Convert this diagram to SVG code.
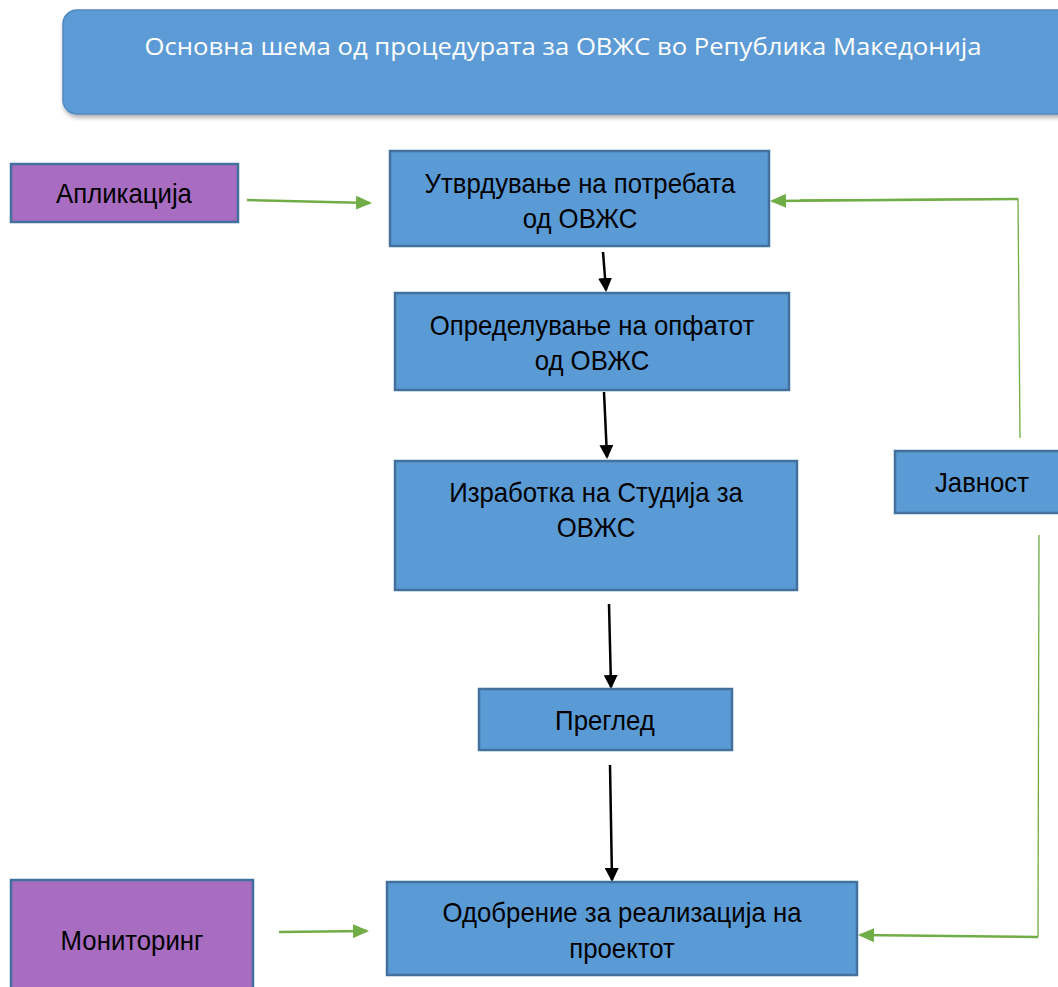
<svg xmlns="http://www.w3.org/2000/svg" width="1058" height="987" viewBox="0 0 1058 987">
<style>
.b{fill:#5B9BD5;stroke:#41719C;stroke-width:2.5}
.p{fill:#A86CC1;stroke:#41719C;stroke-width:2.5}
.t{font-family:"Liberation Sans",Arial,sans-serif;font-size:28px;fill:#000;text-anchor:middle}
.g{stroke:#70AD47;stroke-width:2.5;fill:none}
.gt{stroke:#70AD47;stroke-width:1.3;fill:none}
.k{stroke:#000;stroke-width:2.5;fill:none}
</style>
<defs>
<marker id="ag" markerWidth="16" markerHeight="14" refX="14" refY="7" orient="auto" markerUnits="userSpaceOnUse"><path d="M0,0 L16,7 L0,14 Z" fill="#70AD47"/></marker>
<marker id="ak" markerWidth="14" markerHeight="14" refX="12" refY="7" orient="auto" markerUnits="userSpaceOnUse"><path d="M0,0 L14,7 L0,14 Z" fill="#000"/></marker>
<filter id="sh" x="-5%" y="-10%" width="110%" height="130%"><feDropShadow dx="1" dy="3" stdDeviation="2" flood-color="#000" flood-opacity="0.3"/></filter>
</defs>
<rect width="1058" height="987" fill="#fff"/>
<g id="title">
<rect x="63" y="10" width="1010" height="104" rx="14" fill="#5B9BD5" stroke="#5189BE" stroke-width="1.5" filter="url(#sh)"/>
<text x="563" y="55" font-family="'Open Sans',sans-serif" font-size="23" fill="#fff" text-anchor="middle" textLength="837" lengthAdjust="spacingAndGlyphs">Основна шема од процедурата за ОВЖС во Република Македонија</text>
</g>
<g id="connectors">
<line class="g" x1="247" y1="200" x2="370" y2="203" marker-end="url(#ag)"/>
<polyline class="gt" points="1020,438 1018,199 800,200"/>
<line class="g" x1="1018" y1="199" x2="772" y2="201" marker-end="url(#ag)"/>
<polyline class="gt" points="1039,535 1038,937"/>
<line class="g" x1="1038" y1="937" x2="860" y2="935" marker-end="url(#ag)"/>
<line class="g" x1="279" y1="932" x2="367" y2="931" marker-end="url(#ag)"/>
<line class="k" x1="603" y1="252" x2="606" y2="290" marker-end="url(#ak)"/>
<line class="k" x1="604" y1="392" x2="607" y2="457" marker-end="url(#ak)"/>
<line class="k" x1="609" y1="604" x2="611" y2="687" marker-end="url(#ak)"/>
<line class="k" x1="610" y1="765" x2="612" y2="880" marker-end="url(#ak)"/>
</g>
<g id="n-aplikacija">
<rect class="p" x="11" y="164" width="227" height="58"/>
<text class="t" transform="translate(124,203) scale(0.92,1)">Апликација</text>
</g>
<g id="n-utvrduvanje">
<rect class="b" x="390" y="151" width="379" height="95"/>
<text class="t" transform="translate(580,193) scale(0.92,1)">Утврдување на потребата</text>
<text class="t" transform="translate(580,228) scale(0.92,1)">од ОВЖС</text>
</g>
<g id="n-opredeluvanje">
<rect class="b" x="395" y="293" width="394" height="97"/>
<text class="t" transform="translate(592,335) scale(0.92,1)">Определување на опфатот</text>
<text class="t" transform="translate(592,370) scale(0.92,1)">од ОВЖС</text>
</g>
<g id="n-izrabotka">
<rect class="b" x="395" y="461" width="402" height="129"/>
<text class="t" transform="translate(596,502) scale(0.92,1)">Изработка на Студија за</text>
<text class="t" transform="translate(596,537) scale(0.92,1)">ОВЖС</text>
</g>
<g id="n-pregled">
<rect class="b" x="479" y="689" width="253" height="61"/>
<text class="t" transform="translate(605,730) scale(0.92,1)">Преглед</text>
</g>
<g id="n-odobrenie">
<rect class="b" x="387" y="882" width="470" height="93"/>
<text class="t" transform="translate(622,922) scale(0.92,1)">Одобрение за реализација на</text>
<text class="t" transform="translate(622,958) scale(0.92,1)">проектот</text>
</g>
<g id="n-monitoring">
<rect class="p" x="11" y="880" width="242" height="115"/>
<text class="t" transform="translate(132,950) scale(0.92,1)">Мониторинг</text>
</g>
<g id="n-javnost">
<rect class="b" x="895" y="451" width="175" height="62"/>
<text class="t" transform="translate(982,492) scale(0.92,1)">Јавност</text>
</g>
</svg>
